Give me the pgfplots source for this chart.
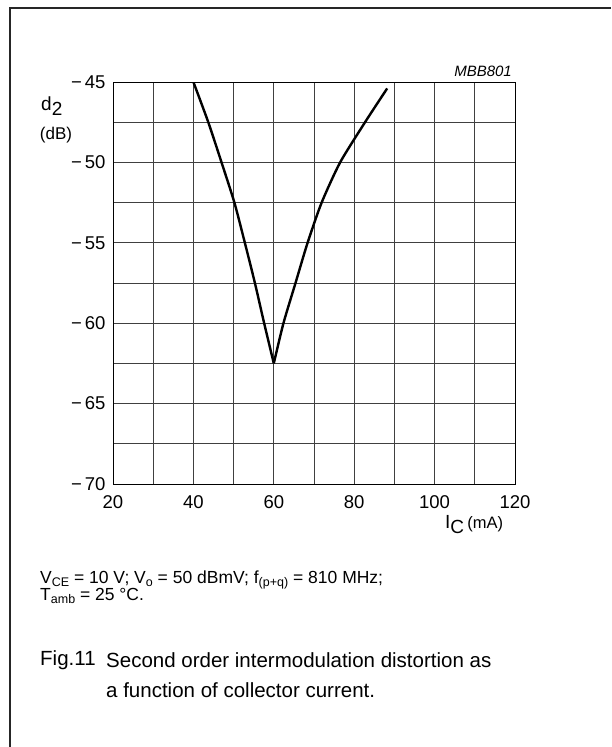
\documentclass[border=0pt]{standalone}
\usepackage{pgfplots}
\pgfplotsset{compat=1.18}
\usepackage{fontspec}
\setmainfont{Liberation Sans}
\newcommand{\fs}[1]{\fontsize{#1}{#1}\selectfont}
\newcommand{\sub}[1]{\raisebox{-3pt}{\fs{12.5}#1}}
\begin{document}
\begin{tikzpicture}[x=1pt,y=1pt]
\useasboundingbox (0,0) rectangle (611,-747);
% page frame
\draw[line width=1.5pt, black!85] (10,-747) -- (10,-8) -- (611,-8);
\begin{axis}[
  at={(113pt,-484pt)}, anchor=south west,
  width=402pt, height=402pt, scale only axis,
  xmin=20, xmax=120, ymin=-70, ymax=-45,
  xtick={20,40,60,80,100,120},
  minor xtick={30,50,70,90,110},
  ytick={-70,-65,-60,-55,-50,-45},
  minor ytick={-67.5,-62.5,-57.5,-52.5,-47.5},
  xticklabels={20,40,60,80,100,120},
  yticklabels={−\,70,−\,65,−\,60,−\,55,−\,50,−\,45},
  grid=both,
  major grid style={black!75, line width=0.8pt},
  minor grid style={black!75, line width=0.8pt},
  major tick length=0pt, minor tick length=0pt,
  axis line style={black, line width=1pt},
  tick label style={font=\fs{18.5}},
  yticklabel style={xshift=-4pt},
  xticklabel style={yshift=-8pt},
]
% falling branch
\addplot[black, line width=2.4pt, smooth, tension=0.4] coordinates {
  (40,-45) (43.7,-47.5) (47.0,-50) (50.2,-52.5) (52.8,-55)
  (55.3,-57.5) (57.6,-60) (60,-62.5)
};
% rising branch
\addplot[black, line width=2.4pt, smooth, tension=0.4] coordinates {
  (60,-62.5) (62.4,-60) (65.4,-57.5) (68.4,-55) (71.9,-52.5)
  (76.5,-50) (82.7,-47.5) (88.2,-45.4)
};
\end{axis}
\node[anchor=east, inner sep=0pt, font=\fs{15}\itshape] at (512,-71) {MBB801};
\node[anchor=west, inner sep=0pt, font=\fs{19}] at (41,-106) {d\raisebox{-5pt}{2}};
\node[inner sep=0pt, font=\fs{17}] at (56,-135) {(dB)};
\node[anchor=west, inner sep=0pt, font=\fs{19}] at (445,-525) {I\raisebox{-5pt}{C}\,{\fs{16.5}(mA)}};
\node[anchor=west, inner sep=0pt, font=\fs{17.5}] at (40,-580)
  {V\sub{CE} = 10 V; V\sub{o} = 50 dBmV; f\sub{(p+q)} = 810 MHz;};
\node[anchor=west, inner sep=0pt, font=\fs{17.5}] at (40,-596)
  {T\sub{amb} = 25 °C.};
\node[anchor=west, inner sep=0pt, font=\fs{20.5}] at (40,-660) {Fig.11};
\node[anchor=west, inner sep=0pt, font=\fs{20.5}] at (106,-660) {Second order intermodulation distortion as};
\node[anchor=west, inner sep=0pt, font=\fs{20.5}] at (106,-690) {a function of collector current.};
\end{tikzpicture}
\end{document}
